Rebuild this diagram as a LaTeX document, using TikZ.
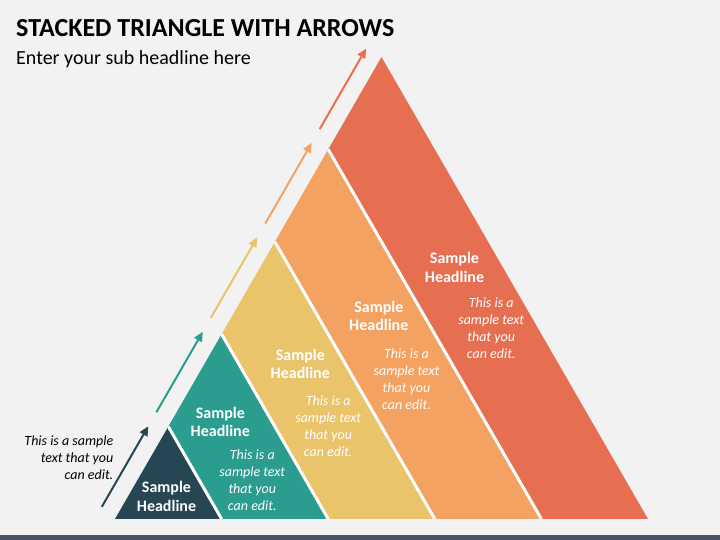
\documentclass[tikz,border=0pt]{standalone}
\usepackage{fontspec}
\setmainfont{Carlito}
\usetikzlibrary{arrows.meta, calc}

\definecolor{bgcol}{HTML}{F2F2F2}
\definecolor{barcol}{HTML}{44546A}
\definecolor{bandA}{HTML}{264653}
\definecolor{bandB}{HTML}{2A9D8F}
\definecolor{bandC}{HTML}{E9C46A}
\definecolor{bandD}{HTML}{F4A261}
\definecolor{bandE}{HTML}{E76F51}

\begin{document}
\begin{tikzpicture}[x=1pt, y=1pt,
                band head/.style={font=\fontsize{16}{18.5}\selectfont\bfseries, text=white, align=center, inner sep=0},
                band text/.style={font=\fontsize{14}{17}\selectfont\itshape, text=white, align=center, inner sep=0},
                up arrow/.style={line width=2pt, -{Triangle[length=9.5pt, width=8.5pt]}}]
                % Background and bottom bar
                \fill[bgcol] (0,0) rectangle (720,540);
                \fill[barcol] (0,0) rectangle (720,5.3);

                % Title and sub headline
                \node[anchor=base west, inner sep=0, font=\fontsize{26}{30}\selectfont\bfseries] (title) at (16,503.3) {STACKED TRIANGLE WITH ARROWS};
                \node[anchor=base west, inner sep=0, font=\fontsize{20}{24}\selectfont] (subtitle) at (16,475) {Enter your sub headline here};

                % Corners of the big triangle
                \coordinate (A) at (115,21);
                \coordinate (B) at (648,21);
                \coordinate (C) at (381.5,483);

                % Points on the left edge and on the base
                \foreach \k in {0,...,5} {
                    \coordinate (L\k) at ($(A)!\k/5!(C)$);
                    \coordinate (P\k) at ($(A)!\k/5!(B)$);
                }

                % Stacked bands
                \foreach \k/\col in {1/bandA, 2/bandB, 3/bandC, 4/bandD, 5/bandE} {
                    \pgfmathtruncatemacro{\j}{\k-1}
                    \fill[\col] (L\j) -- (L\k) -- (P\k) -- (P\j) -- cycle;
                }

                % White gaps between bands
                \begin{scope}
                    \clip (A) -- (B) -- (C) -- cycle;
                    \foreach \k in {1,...,4}
                        \draw[white, line width=3pt] (L\k) -- (P\k);
                \end{scope}

                % Arrows along the left side
                \coordinate (As) at ($(A)!17.5pt!90:(C)$);
                \coordinate (Cs) at ($(C)!17.5pt!-90:(A)$);
                \foreach \k/\col in {0/bandA, 1/bandB, 2/bandC, 3/bandD, 4/bandE} {
                    \coordinate (arr\k s) at ($(As)!{(4+109*\k)/533.35}!(Cs)$);
                    \coordinate (arr\k e) at ($(As)!{(97+109*\k)/533.35}!(Cs)$);
                    \draw[up arrow, \col] (arr\k s) -- (arr\k e);
                }

                % Headlines
                \node[band head] (headA) at (166.5,43.6) {Sample\\Headline};
                \node[band head] (headB) at (220.3,118.0) {Sample\\Headline};
                \node[band head] (headC) at (300.3,176.3) {Sample\\Headline};
                \node[band head] (headD) at (378.8,224.0) {Sample\\Headline};
                \node[band head] (headE) at (454.5,272.3) {Sample\\Headline};

                % Body texts
                \node[band text] (textB) at (252.3,60.1) {This is a\\sample text\\that you\\can edit.};
                \node[band text] (textC) at (328.2,113.7) {This is a\\sample text\\that you\\can edit.};
                \node[band text] (textD) at (406.5,161.1) {This is a\\sample text\\that you\\can edit.};
                \node[band text] (textE) at (491.2,211.7) {This is a\\sample text\\that you\\can edit.};

                % Side note
                \node[anchor=east, align=right, inner sep=0, font=\fontsize{14}{17}\selectfont\itshape] (note) at (113.5,82.2) {This is a sample\\text that you\\can edit.};
            \end{tikzpicture}
\end{document}
